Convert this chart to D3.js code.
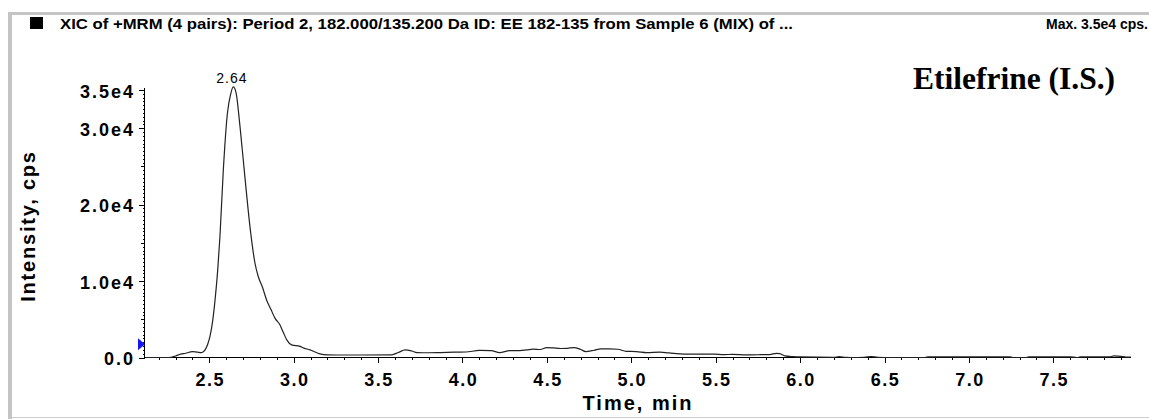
<!DOCTYPE html>
<html>
<head>
<meta charset="utf-8">
<script src="https://cdn.jsdelivr.net/npm/d3@7"></script>
<style>
  body { margin: 0; background: #fff; }
  svg { display: block; }
</style>
</head>
<body>
<div id="chart"></div>
<script>
const chart_width = 1149;
const chart_height = 419;

// retention time (min) and intensity (cps)
const times = [2.12, 2.26, 2.30, 2.33, 2.36, 2.40, 2.43, 2.455, 2.475, 2.49, 2.504, 2.52, 2.534, 2.55, 2.563,
  2.583, 2.607, 2.627, 2.642, 2.658, 2.682, 2.711, 2.741, 2.771, 2.79, 2.815, 2.84, 2.865, 2.889, 2.919,
  2.94, 2.959, 2.988, 3.037, 3.06, 3.097, 3.12, 3.156, 3.20, 3.25, 3.40, 3.58, 3.62, 3.66, 3.70, 3.73,
  3.80, 3.87, 3.95, 4.02, 4.10, 4.17, 4.22, 4.28, 4.34, 4.38, 4.42, 4.46, 4.50, 4.54, 4.58, 4.62, 4.66,
  4.70, 4.73, 4.78, 4.82, 4.87, 4.92, 4.97, 5.03, 5.09, 5.17, 5.22, 5.29, 5.35, 5.42, 5.49, 5.55, 5.60,
  5.68, 5.75, 5.82, 5.86, 5.88, 5.91, 5.96, 6.00, 6.20, 6.23, 6.27, 6.30, 6.38, 6.42, 6.46, 6.50, 6.74,
  6.76, 7.24, 7.26, 7.34, 7.36, 7.60, 7.64, 7.66, 7.83, 7.86, 7.90, 7.93, 7.96];
const intensity = [0, 0, 200, 440, 560, 780, 700, 650, 1000, 1700, 2750, 4800, 7500, 11500, 15800,
  24500, 31900, 34500, 35400, 34700, 30200, 23600, 17100, 12300, 10600, 9200, 7500, 6300, 5150, 4250,
  3200, 2300, 1650, 1450, 1230, 1000, 780, 480, 350, 330, 330, 350, 650, 1000, 850, 650,
  620, 650, 700, 720, 920, 900, 650, 900, 900, 1000, 1100, 1050, 1300, 1250, 1180, 1200, 1300,
  1050, 780, 950, 1130, 1130, 1080, 800, 780, 650, 700, 600, 480, 450, 440, 430, 380, 400,
  350, 360, 380, 550, 500, 220, 120, 80, 20, 120, 20, 0, 30, 130, 20, 0, 0,
  90, 90, 0, 0, 90, 90, 0, 70, 70, 200, 150, 60, 50];

const xMajor = [2.5, 3.0, 3.5, 4.0, 4.5, 5.0, 5.5, 6.0, 6.5, 7.0, 7.5];
const yLabels = [0, 10000, 20000, 30000, 35000];
const yLabelText = ["0.0", "1.0e4", "2.0e4", "3.0e4", "3.5e4"];
const peakTime = 2.64;
const peakMax = 35400;
const thresholdLevel = 1750;

const title = "XIC of +MRM (4 pairs): Period 2, 182.000/135.200 Da ID: EE 182-135 from Sample 6 (MIX) of ...";
const maxText = "Max. 3.5e4 cps.";
const compound = "Etilefrine (I.S.)";

const svg = d3.select("#chart").append("svg")
    .attr("width", chart_width)
    .attr("height", chart_height);

const x = d3.scaleLinear().domain([2.5, 7.5]).range([209.3, 1053.3]);
const y = d3.scaleLinear().domain([0, 35000]).range([357.5, 90]);
const xMin = 2.113, xMax = 7.96;

// window frame
svg.append("rect").attr("x", 8).attr("y", 12).attr("width", chart_width - 8).attr("height", 3).attr("fill", "#c4c4c4");
svg.append("rect").attr("x", 8).attr("y", 12).attr("width", 4).attr("height", chart_height - 12).attr("fill", "#c4c4c4");
svg.append("rect").attr("x", 12).attr("y", 417).attr("width", chart_width - 12).attr("height", 1).attr("fill", "#cfcfcf");

// header
svg.append("rect").attr("x", 30).attr("y", 17).attr("width", 13).attr("height", 12).attr("fill", "#000");
svg.append("text")
    .attr("x", 60).attr("y", 29)
    .attr("textLength", 733).attr("lengthAdjust", "spacingAndGlyphs")
    .style("font", "bold 14px 'Liberation Sans', Arial, sans-serif")
    .text(title);
svg.append("text")
    .attr("x", 1148).attr("y", 29)
    .attr("text-anchor", "end")
    .style("font", "bold 14px 'Liberation Sans', Arial, sans-serif")
    .text(maxText);

svg.append("text")
    .attr("x", 913).attr("y", 89)
    .style("font", "bold 31.5px 'Liberation Serif', 'Times New Roman', serif")
    .text(compound);

// y axis
const yAxis = svg.append("g").attr("stroke", "#000").attr("shape-rendering", "crispEdges");
yAxis.append("line").attr("x1", 144.5).attr("x2", 144.5).attr("y1", y(35200)).attr("y2", y(0));
yAxis.selectAll(".ymin")
    .data(d3.range(0, 35001, 500))
    .enter().append("line")
    .attr("x1", d => d % 10000 === 0 || d === 35000 ? 139 : d % 5000 === 0 ? 141 : 143)
    .attr("x2", 145)
    .attr("y1", d => Math.round(y(d)) + 0.5)
    .attr("y2", d => Math.round(y(d)) + 0.5);

svg.selectAll(".ylab")
    .data(yLabels)
    .enter().append("text")
    .attr("x", 135)
    .attr("y", d => Math.max(y(d) + 7.5, 93.5))
    .attr("text-anchor", "end")
    .style("font", "bold 18px 'Liberation Sans', Arial, sans-serif")
    .style("letter-spacing", "2px")
    .text((d, i) => yLabelText[i]);

// x axis
const xAxis = svg.append("g").attr("stroke", "#000").attr("shape-rendering", "crispEdges");
xAxis.append("line").attr("x1", x(xMin)).attr("x2", x(xMax)).attr("y1", 357.5).attr("y2", 357.5).attr("stroke-width", 1.5);
xAxis.selectAll(".xmin")
    .data(d3.range(22, 80).map(d => d / 10))
    .enter().append("line")
    .attr("x1", d => Math.round(x(d)) + 0.5)
    .attr("x2", d => Math.round(x(d)) + 0.5)
    .attr("y1", 357)
    .attr("y2", d => Math.abs(d * 2 - Math.round(d * 2)) < 1e-6 ? 363 : 360);

svg.selectAll(".xlab")
    .data(xMajor)
    .enter().append("text")
    .attr("x", d => x(d) + 1)
    .attr("y", 385.5)
    .attr("text-anchor", "middle")
    .style("font", "bold 18px 'Liberation Sans', Arial, sans-serif")
    .style("letter-spacing", "1.5px")
    .text(d => d.toFixed(1));

svg.append("text")
    .attr("x", 638).attr("y", 410)
    .attr("text-anchor", "middle")
    .style("font", "bold 20px 'Liberation Sans', Arial, sans-serif")
    .style("letter-spacing", "2px")
    .text("Time, min");

svg.append("text")
    .attr("transform", "translate(35,226) rotate(-90)")
    .attr("text-anchor", "middle")
    .style("font", "bold 20px 'Liberation Sans', Arial, sans-serif")
    .style("letter-spacing", "1.8px")
    .text("Intensity, cps");

// threshold marker
svg.append("path")
    .attr("d", `M138,${y(thresholdLevel) - 6}L145,${y(thresholdLevel)}L138,${y(thresholdLevel) + 6}Z`)
    .attr("fill", "#1515f0");

// trace
const line = d3.line()
    .x((d, i) => x(times[i]))
    .y(d => y(d))
    .curve(d3.curveMonotoneX);

svg.append("path")
    .datum(intensity)
    .attr("d", line)
    .attr("fill", "none")
    .attr("stroke", "#222")
    .attr("stroke-width", 1.2);

svg.append("text")
    .attr("x", x(peakTime) - 1)
    .attr("y", y(peakMax) - 4)
    .attr("text-anchor", "middle")
    .style("font", "14px 'Liberation Sans', Arial, sans-serif")
    .style("letter-spacing", "1px")
    .text(peakTime.toFixed(2));
</script>
</body>
</html>
